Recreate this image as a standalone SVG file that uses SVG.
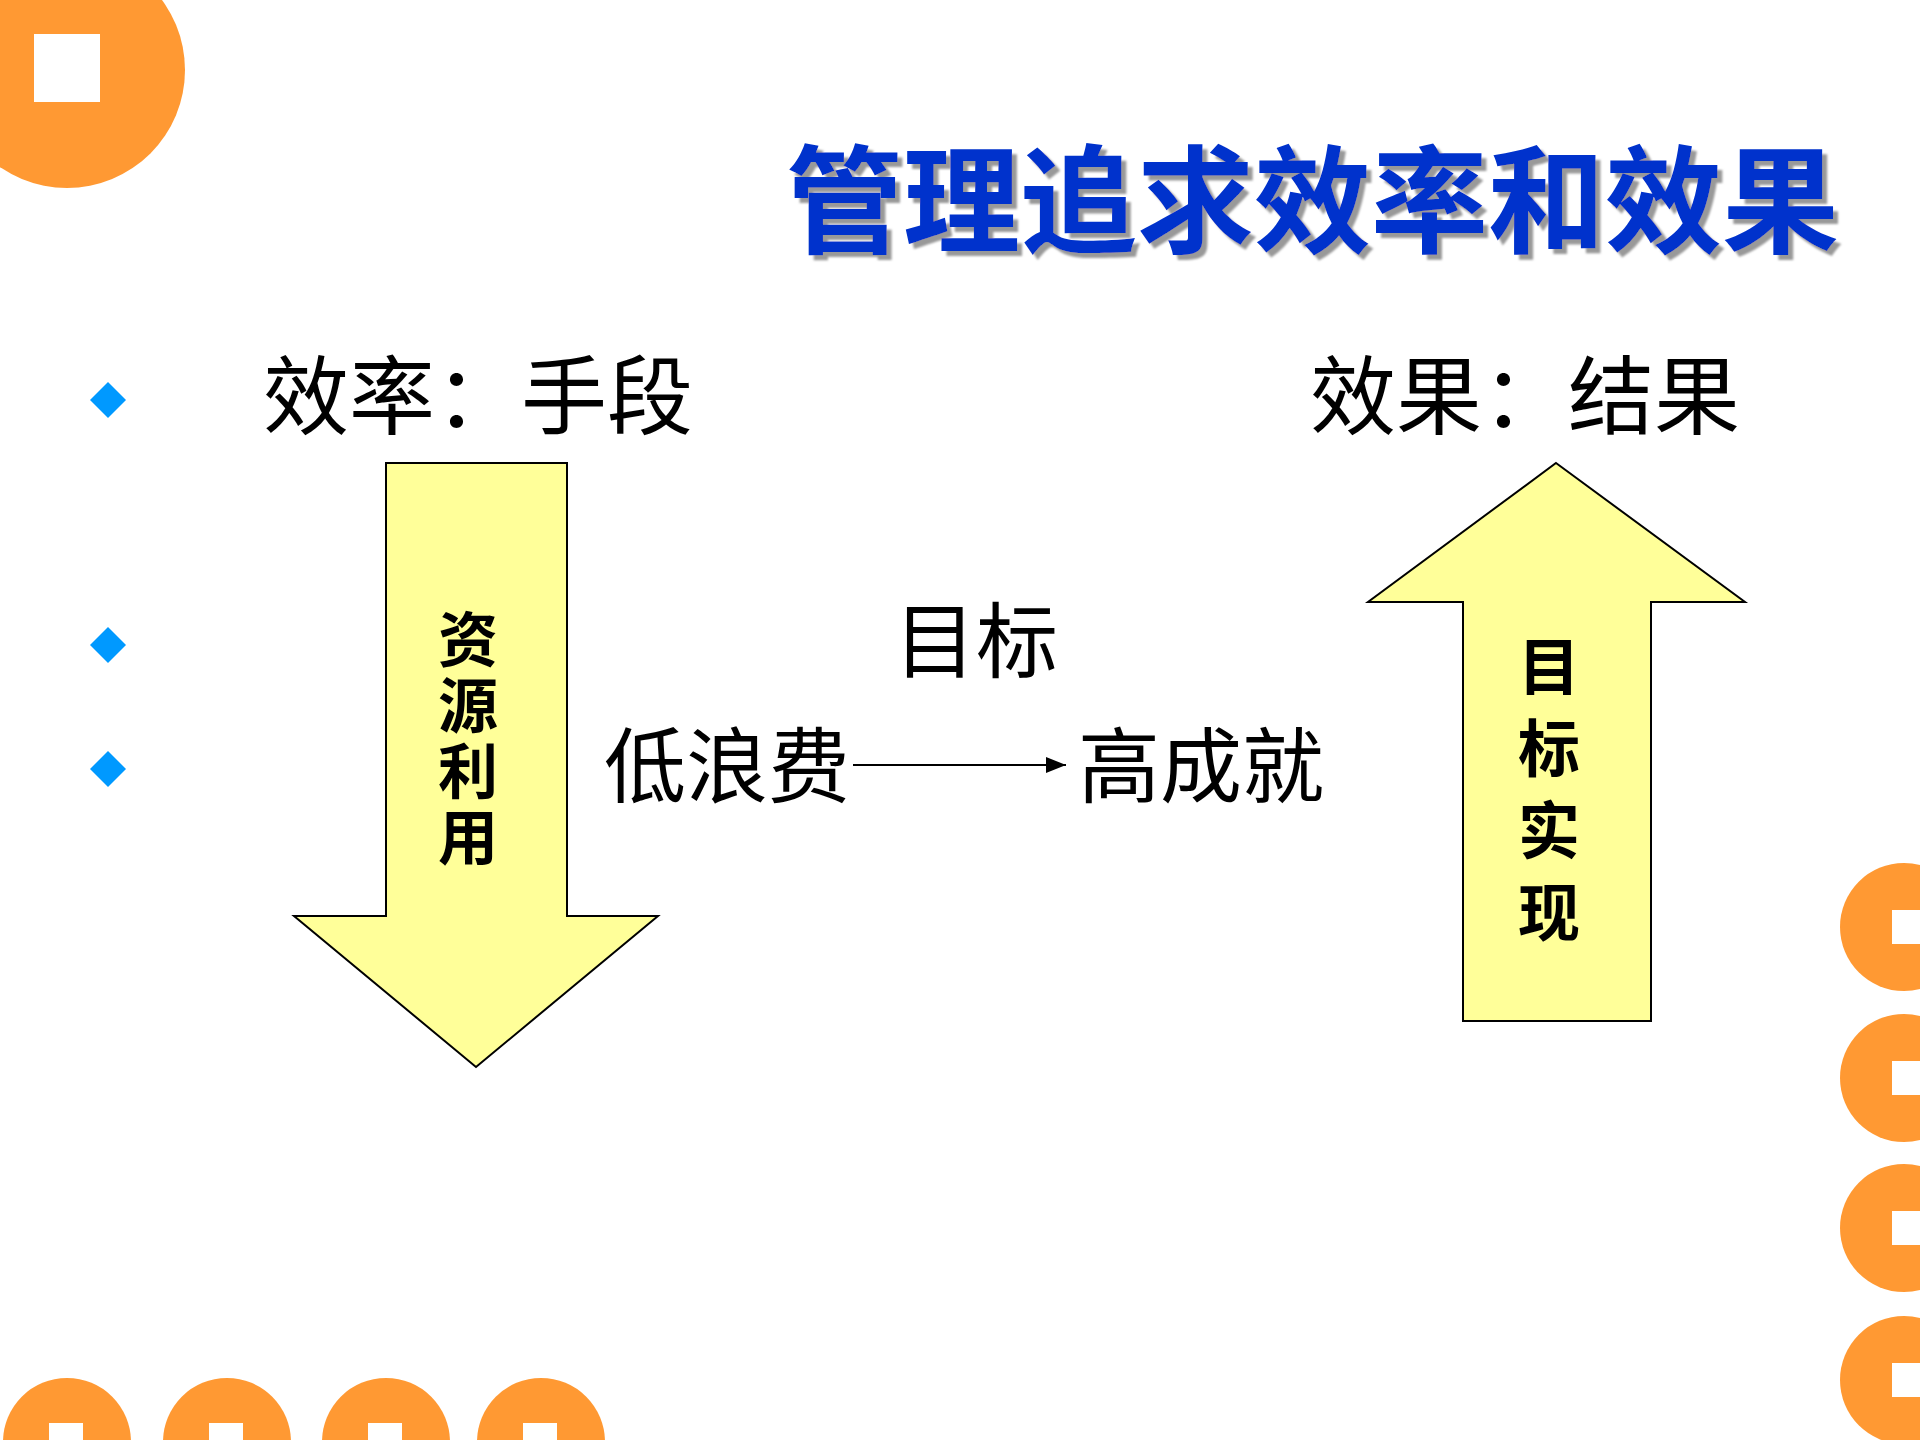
<svg xmlns="http://www.w3.org/2000/svg" width="1920" height="1440" viewBox="0 0 1920 1440">
<style>
.o{fill:#FF9933}.w{fill:#fff}
.t{font-family:"Liberation Serif","Noto Sans CJK SC",serif;fill:#000}
.b{font-weight:bold}
.ar{fill:#FFFF99;stroke:#000;stroke-width:2}
.d{fill:#0099FF}
</style>
<defs><marker id="m" markerWidth="10" markerHeight="8" refX="10" refY="4" orient="auto"><path d="M0,0L10,4L0,8z" fill="#000"/></marker>
<filter id="sh" x="-5%" y="-20%" width="110%" height="140%"><feDropShadow dx="5" dy="5" stdDeviation="1" flood-color="#999" flood-opacity="1"/></filter></defs>
<rect width="1920" height="1440" fill="#fff"/>
<g id="deco">
<circle class="o" cx="67" cy="70" r="118"/><rect class="w" x="34" y="34" width="66" height="68"/>
<circle class="o" cx="67" cy="1442" r="64"/><rect class="w" x="49" y="1423" width="34" height="17"/>
<circle class="o" cx="227" cy="1442" r="64"/><rect class="w" x="209" y="1423" width="34" height="17"/>
<circle class="o" cx="386" cy="1442" r="64"/><rect class="w" x="368" y="1423" width="34" height="17"/>
<circle class="o" cx="541" cy="1442" r="64"/><rect class="w" x="523" y="1423" width="34" height="17"/>
<circle class="o" cx="1904" cy="927" r="64"/><rect class="w" x="1892" y="910" width="28" height="34"/>
<circle class="o" cx="1904" cy="1078" r="64"/><rect class="w" x="1892" y="1061" width="28" height="34"/>
<circle class="o" cx="1904" cy="1228" r="64"/><rect class="w" x="1892" y="1211" width="28" height="34"/>
<circle class="o" cx="1904" cy="1380" r="64"/><rect class="w" x="1892" y="1363" width="28" height="34"/>
<path class="d" d="M108,382L126,400L108,418L90,400z"/>
<path class="d" d="M108,627L126,645L108,663L90,645z"/>
<path class="d" d="M108,751L126,769L108,787L90,769z"/>
</g>
<g id="title"><text x="786" y="244" fill="#0033CC" font-family="Liberation Sans,'Noto Sans CJK SC',sans-serif" font-weight="bold" font-size="117" filter="url(#sh)">管理追求效率和效果</text></g>
<g id="eff"><text class="t" x="263" y="428" font-size="86">效率：手段</text></g>
<g id="res"><text class="t" x="1310" y="428" font-size="86">效果：结果</text></g>
<g id="down"><path class="ar" d="M386,463H567V916H658L476,1067L294,916H386z"/>
<g class="t b" font-size="60" text-anchor="middle"><text x="468" y="662">资</text><text x="468" y="728">源</text><text x="468" y="794">利</text><text x="468" y="860">用</text></g></g>
<g id="up"><path class="ar" d="M1556,463L1745,602H1651V1021H1463V602H1368z"/>
<g class="t b" font-size="62" text-anchor="middle"><text x="1549" y="690">目</text><text x="1549" y="772">标</text><text x="1549" y="854">实</text><text x="1549" y="936">现</text></g></g>
<g id="goal"><text class="t" x="894" y="671" font-size="82">目标</text></g>
<g id="low"><text class="t" x="604" y="796" font-size="82">低浪费</text></g>
<g id="high"><text class="t" x="1078" y="796" font-size="82">高成就</text></g>
<g id="connectors"><line x1="853" y1="765" x2="1066" y2="765" stroke="#000" stroke-width="2" marker-end="url(#m)"/></g>
</svg>
